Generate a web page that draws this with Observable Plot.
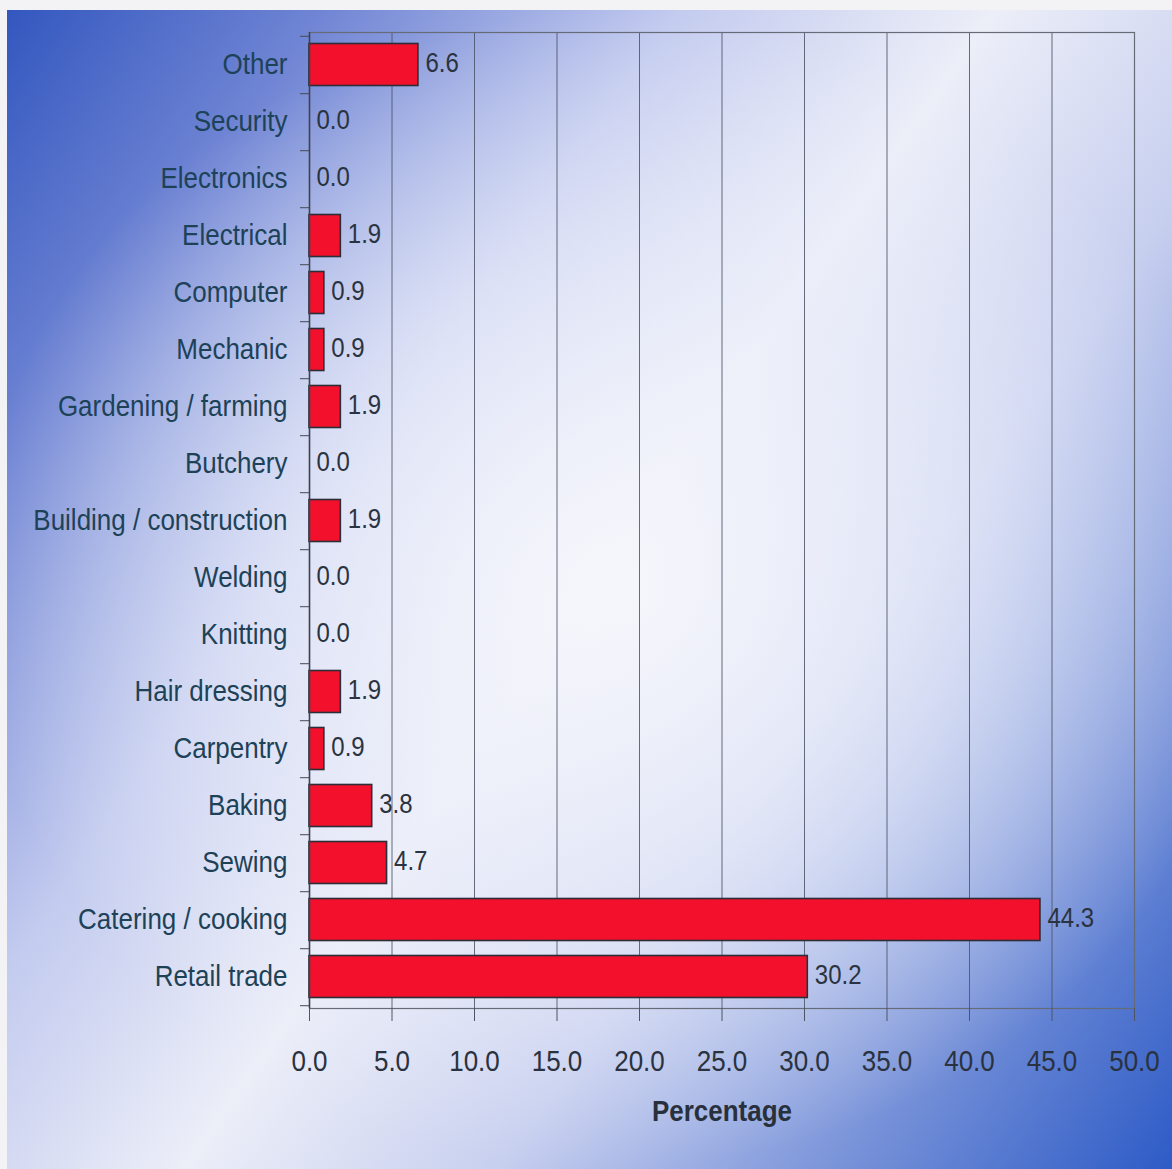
<!DOCTYPE html>
<html>
<head>
<meta charset="utf-8">
<script src="https://cdn.jsdelivr.net/npm/d3@7"></script>
<script src="https://cdn.jsdelivr.net/npm/@observablehq/plot@0.6"></script>
<style>
  body { margin: 0; background: #f3f3f6; width: 1172px; height: 1169px; overflow: hidden; position: relative; }
  #panel {
    position: absolute; left: 7px; top: 10px; width: 1165px; height: 1159px;
    background:
      radial-gradient(ellipse 55% 50% at 52% 50%, rgba(246,247,252,0.95) 0%, rgba(236,239,250,0.6) 55%, rgba(236,239,250,0) 100%),
      linear-gradient(125deg, #3357bf 0%, #7085d4 16%, #c3cbef 34%, #eceef8 50%, #c7cfef 66%, #7590d8 84%, #2d5bc6 100%);
  }
  #chart { position: absolute; left: 0; top: 0; }
  #chart svg { background: transparent; }
</style>
</head>
<body>
<div id="panel"></div>
<div id="chart"></div>
<script>
const categories = [
  "Other", "Security", "Electronics", "Electrical", "Computer", "Mechanic",
  "Gardening / farming", "Butchery", "Building / construction", "Welding",
  "Knitting", "Hair dressing", "Carpentry", "Baking", "Sewing",
  "Catering / cooking", "Retail trade"
];
const values = [6.6, 0.0, 0.0, 1.9, 0.9, 0.9, 1.9, 0.0, 1.9, 0.0, 0.0, 1.9, 0.9, 3.8, 4.7, 44.3, 30.2];
const xTicks = [0, 5, 10, 15, 20, 25, 30, 35, 40, 45, 50];
const xLabel = "Percentage";

const data = categories.map((c, i) => ({category: c, value: values[i]}));

const W = 1172, H = 1169, mT = 32, mB = 161, mL = 309, mR = 38;
const bw = (H - mT - mB) / categories.length;

const chart = Plot.plot({
  width: W,
  height: H,
  marginTop: mT,
  marginBottom: mB,
  marginLeft: mL,
  marginRight: mR,
  style: {fontFamily: "'Liberation Sans', Arial, sans-serif", background: "transparent"},
  x: {domain: [0, 50], ticks: xTicks},
  y: {domain: categories, padding: 0},
  marks: [
    Plot.gridX(xTicks.filter(d => d > 0 && d < 50), {stroke: "#4c5466", strokeOpacity: 0.85, strokeWidth: 1}),
    Plot.frame({stroke: "#666b78", strokeWidth: 1.2}),
    Plot.ruleY(categories, {y: d => d, x1: -0.55, x2: 0, dy: bw / 2, stroke: "#444a56", strokeWidth: 1}),
    Plot.ruleY(categories.slice(0, 1), {y: d => d, x1: -0.55, x2: 0, dy: -bw / 2, stroke: "#444a56", strokeWidth: 1}),
    Plot.barX(data, {
      y: "category", x: "value",
      fill: "#f2102c", stroke: "#2b2d38", strokeWidth: 1.6,
      insetTop: 7.5, insetBottom: 7.5
    }),
    Plot.ruleX([0], {stroke: "#3d4250", strokeWidth: 1.5}),
    Plot.text(data, {
      y: "category", x: "value",
      text: d => d.value.toFixed(1),
      dx: 7, dy: -2, textAnchor: "start",
      fontSize: 24, fill: "#2b3340"
    }),
    Plot.axisY({
      tickSize: 0, tickPadding: 22, fontSize: 26, label: null,
      color: "#1d4257"
    }),
    Plot.axisX({
      ticks: xTicks, tickFormat: d => d.toFixed(1),
      tickSize: 13, tickPadding: 28, fontSize: 26, label: null,
      color: "#2a3240", stroke: "#4c5466"
    }),
    Plot.text([xLabel], {
      frameAnchor: "bottom", dy: 112, text: d => d,
      fontSize: 26, fontWeight: "bold", fill: "#28303c"
    })
  ]
});

// The scanned reference shows slightly tall lettering: stretch text vertically about its anchor.
d3.select(chart).selectAll("text").each(function () {
  const t = this.getAttribute("transform");
  if (t) {
    this.setAttribute("transform", t + " scale(1,1.14)");
  } else {
    const x = +this.getAttribute("x") || 0, y = +this.getAttribute("y") || 0;
    this.removeAttribute("x"); this.removeAttribute("y");
    this.setAttribute("transform", `translate(${x},${y}) scale(1,1.14)`);
  }
});

document.getElementById("chart").appendChild(chart);
</script>
</body>
</html>
